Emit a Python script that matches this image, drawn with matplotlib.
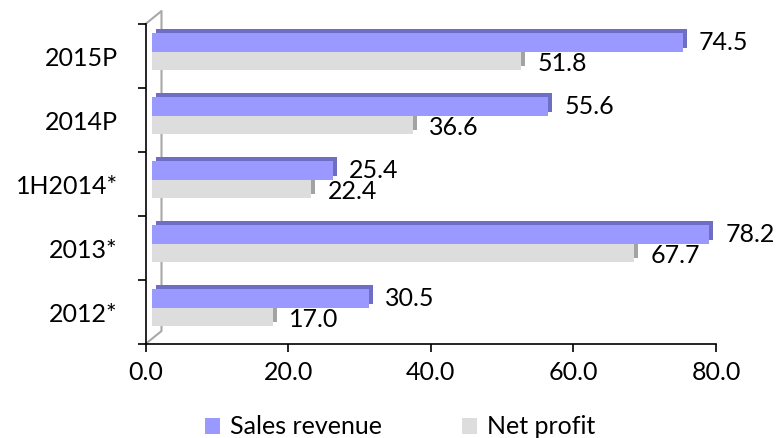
import matplotlib
matplotlib.use("Agg")
import matplotlib.pyplot as plt
import matplotlib.patheffects as pe
import matplotlib.transforms as mtransforms
from matplotlib.patches import Patch

categories = ["2012*", "2013*", "1H2014*", "2014P", "2015P"]
sales_revenue = [30.5, 78.2, 25.4, 55.6, 74.5]
net_profit = [17.0, 67.7, 22.4, 36.6, 51.8]
x_ticks = [0, 20, 40, 60, 80]
x_tick_labels = ["0.0", "20.0", "40.0", "60.0", "80.0"]

plt.rcParams['font.family'] = ['Lato', 'DejaVu Sans']
FS = 18

fig = plt.figure(figsize=(7.78, 4.38), dpi=100)
W, H = 778, 438
ax = fig.add_axes([145.5 / W, 1 - 344 / H, (716 - 145.5) / W, (344 - 24) / H])

blue = "#9999FF"
blue_dark = "#6E6EC4"
grey = "#DDDDDD"
grey_dark = "#A3A3A3"

shift = mtransforms.offset_copy(ax.transData, fig=fig, x=6, y=0, units='dots')

ypos = list(range(len(categories)))
yb = [y + 0.21 for y in ypos]
yg = [y - 0.08 for y in ypos]

bars_g = ax.barh(yg, net_profit, height=0.28, color=grey, transform=shift, zorder=2)
bars_b = ax.barh(yb, sales_revenue, height=0.30, color=blue, transform=shift, zorder=3)
for b in bars_g:
    b.set_path_effects([pe.SimplePatchShadow(offset=(3, 3), shadow_rgbFace=grey_dark, alpha=1.0), pe.Normal()])
for b in bars_b:
    b.set_path_effects([pe.SimplePatchShadow(offset=(3, 3), shadow_rgbFace=blue_dark, alpha=1.0), pe.Normal()])

for y, v in zip(yb, sales_revenue):
    ax.annotate(f"{v:.1f}", (v, y), xytext=(16, 0), textcoords='offset points',
                va='center', ha='left', fontsize=FS, color='black', zorder=5)
for y, v in zip(yg, net_profit):
    ax.annotate(f"{v:.1f}", (v, y), xytext=(16, -2), textcoords='offset points',
                va='center', ha='left', fontsize=FS, color='black', zorder=5)

ax.set_xlim(0, 80)
ax.set_ylim(-0.5, len(categories) - 0.5)
ax.set_xticks(x_ticks)
ax.set_xticklabels(x_tick_labels, fontsize=FS)
ax.set_yticks([y - 0.5 for y in ypos] + [len(categories) - 0.5])
ax.set_yticklabels([""] * (len(categories) + 1))
ax.set_yticks(ypos, minor=True)
ax.set_yticklabels(categories, minor=True, fontsize=FS)
ax.tick_params(axis='y', which='minor', length=0, pad=20)
ax.tick_params(axis='y', which='major', length=6, width=1.2, color='black')
ax.tick_params(axis='x', length=6, width=1.2, pad=6)

for s in ['top', 'right']:
    ax.spines[s].set_visible(False)
ax.spines['left'].set_linewidth(1.2)
ax.spines['bottom'].set_linewidth(1.2)

# back wall outline of the 3D chart
axw, axh = 716 - 145.5, 344 - 24
dx, dy = 16 / axw, 13 / axh
ax.plot([0, dx, dx, 0], [1, 1 + dy, dy, 0], transform=ax.transAxes, color="#A8A8A8",
        lw=1.5, clip_on=False, zorder=1)

handles = [Patch(facecolor=blue, label="Sales revenue"), Patch(facecolor=grey, label="Net profit")]
fig.legend(handles=handles, loc='center', bbox_to_anchor=(400 / W, 1 - 427 / H), ncol=2,
           frameon=False, fontsize=FS, handlelength=0.6, handleheight=0.6,
           handletextpad=0.4, columnspacing=3.2, borderpad=0)

fig.savefig("out.png", dpi=100)
